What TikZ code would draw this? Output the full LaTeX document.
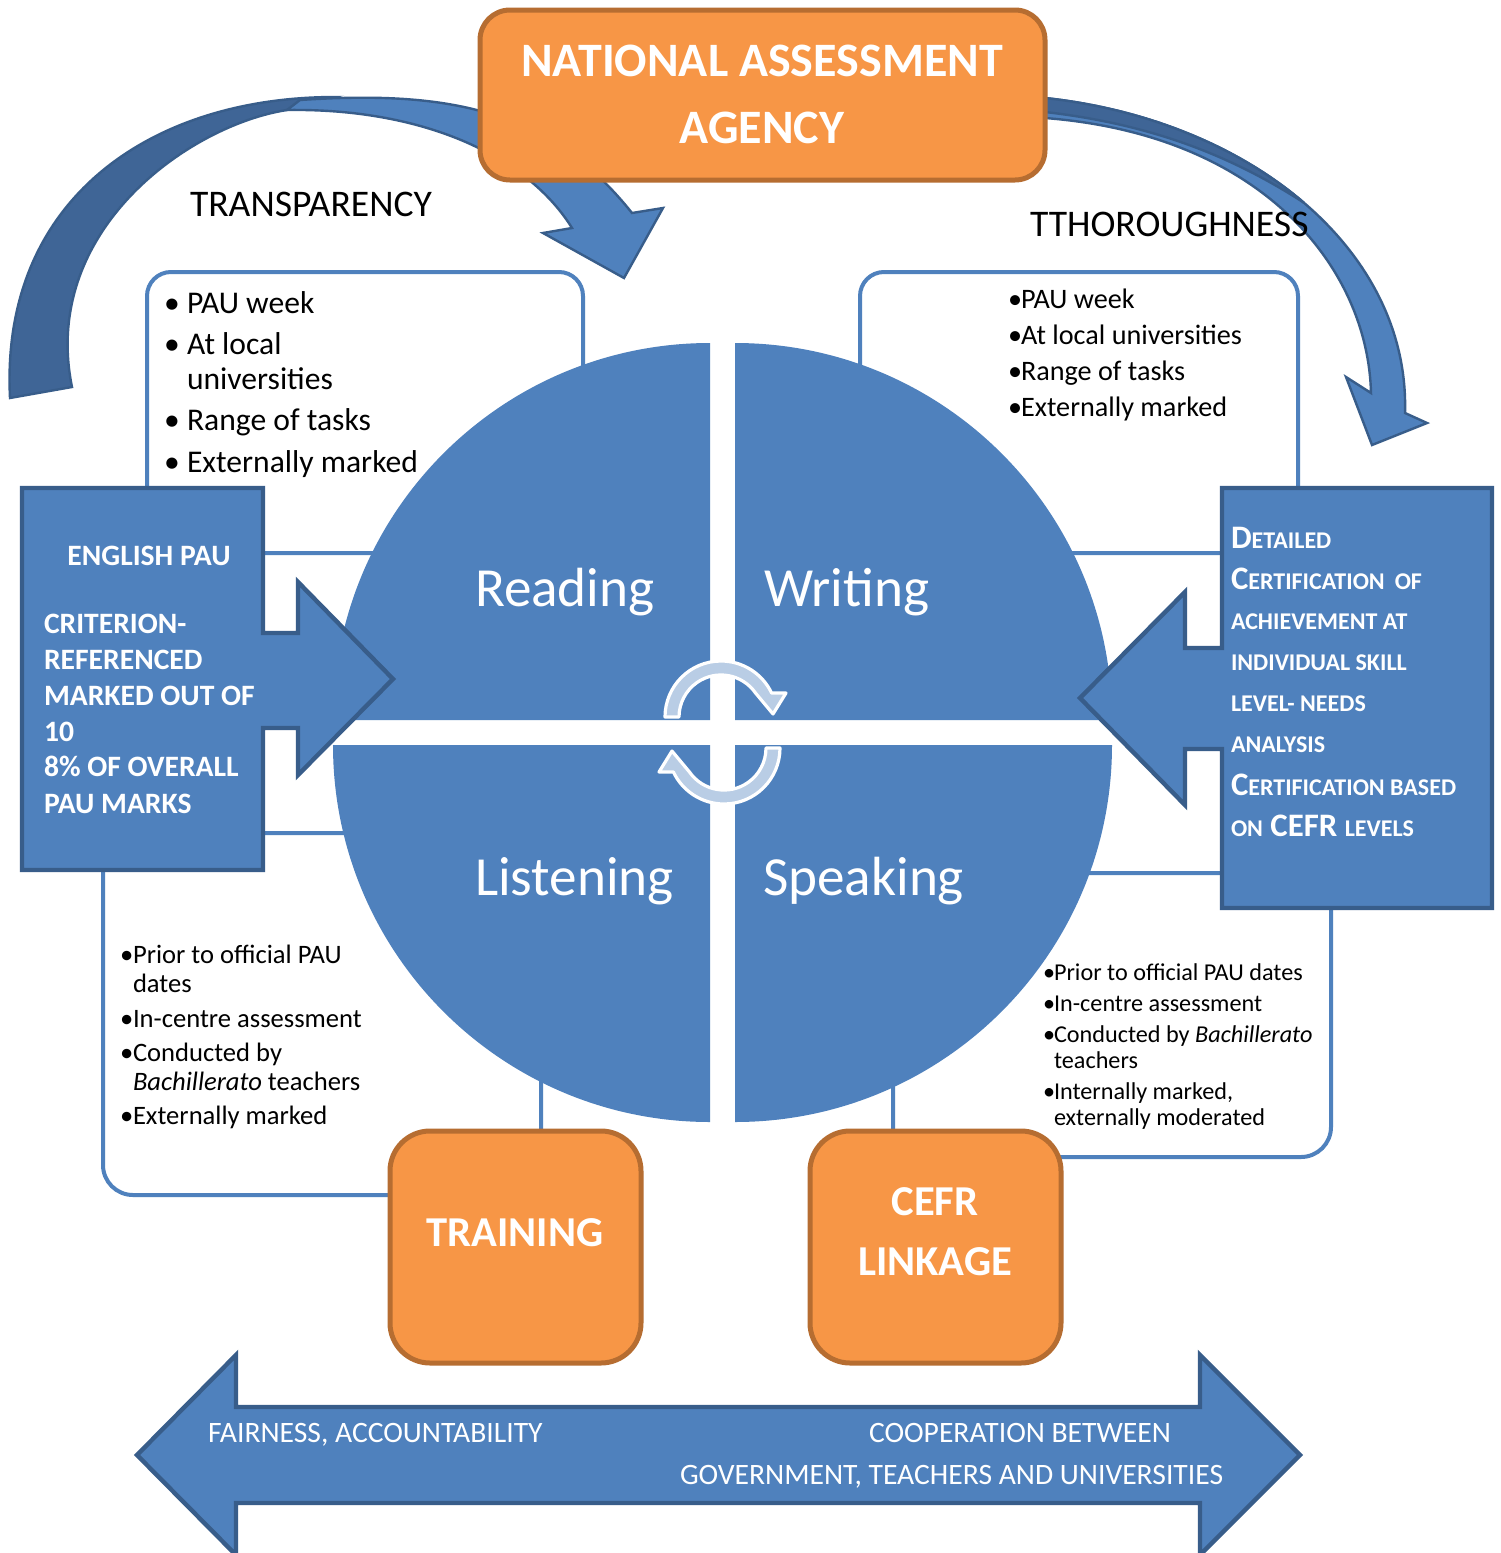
\documentclass[tikz,border=0pt]{standalone}
\usepackage{fontspec}
\setmainfont{Carlito}
\usetikzlibrary{calc}
\definecolor{blu}{HTML}{4F81BD}
\definecolor{bluborder}{HTML}{385D8A}
\definecolor{bludark}{HTML}{3F6596}
\definecolor{org}{HTML}{F79646}
\definecolor{orgborder}{HTML}{B66D31}
\definecolor{cyc}{HTML}{B9CDE5}
\newcommand{\setfs}[1]{\fontsize{#1}{#1}\selectfont}
\newcommand{\smc}[1]{{\setfs{12}#1}}
\tikzset{
 lbox/.style={draw=blu, line width=2pt, rounded corners=12pt},
 bshape/.style={fill=blu, draw=bluborder, line width=2.2pt, line join=miter},
 obox/.style={fill=org, draw=orgborder, line width=2.5pt},
 quad/.style={fill=blu},
 carrow/.style={fill=blu, draw=bluborder, line width=1.2pt},
 cdark/.style={fill=bludark, draw=bluborder, line width=1.2pt},
 cyca/.style={fill=cyc, draw=white, line width=1.6pt, line join=round},
 txt/.style={inner sep=0pt, outer sep=0pt},
 tl/.style={txt, anchor=base west, font=\setfs{15.8}},
 tr/.style={txt, anchor=base west, font=\setfs{14.1}},
 bl/.style={txt, anchor=base west, font=\setfs{13.3}},
 br/.style={txt, anchor=base west, font=\setfs{12.1}},
 wb/.style={txt, text=white, font=\bfseries\setfs{14.8}},
 rb/.style={txt, anchor=base west, text=white, font=\bfseries\setfs{16.4}},
 bigw/.style={txt, anchor=base, text=white, font=\bfseries\setfs{24}},
 orgw/.style={txt, anchor=base, text=white, font=\bfseries\setfs{21.3}},
 skill/.style={txt, anchor=base west, text=white, font=\setfs{27.6}},
 arrw/.style={txt, anchor=base west, text=white, font=\setfs{14.8}},
 head/.style={txt, anchor=base west, font=\setfs{18.8}},
}
\begin{document}
\begin{tikzpicture}[x=0.5pt,y=0.5pt]
\useasboundingbox (0,0) rectangle (1500,-1553);
\fill[white] (0,0) rectangle (1500,-1553);

% outline boxes behind everything
\draw[lbox] (147,-553) rectangle (583,-272);
\draw[lbox] (860,-553) rectangle (1298,-272);
\draw[lbox, rounded corners=15pt] (103,-833) rectangle (541,-1195);
\draw[lbox, rounded corners=15pt] (893,-873) rectangle (1331,-1157);

% left curved arrow (dark back part, then light front part)
\path[cdark] (10,-398) .. controls (0,-200) and (150,-97) .. (335,-97)
  -- (287,-110) .. controls (190,-125) and (40,-230) .. (72,-387) -- cycle;
\path[carrow] (300,-100) .. controls (450,-90) and (550,-110) .. (632,-213)
  -- (663,-208) -- (624,-278) -- (543,-233) -- (572,-228)
  .. controls (530,-160) and (430,-108) .. (287,-110) -- cycle;

% right curved arrow
\path[carrow] (1045,-98) .. controls (1250,-120) and (1410,-250) .. (1405,-413)
  -- (1427,-423) -- (1372,-445) -- (1346,-377) -- (1371,-393)
  .. controls (1368,-270) and (1265,-135) .. (1045,-118) -- cycle;
\path[cdark] (1045,-98) .. controls (1147.5,-109) and (1238.75,-147) .. (1303.75,-202.6)
  .. controls (1230,-155) and (1150,-124) .. (1045,-112) -- cycle;

% top orange box
\draw[obox, rounded corners=15pt] (480,-10) rectangle (1045,-180);

% circle quadrants
\fill[quad] (710,-720) -- (333,-720) arc[start angle=180, end angle=90, radius=188.5pt] -- cycle;
\fill[quad] (735,-720) -- (735,-343) arc[start angle=90, end angle=0, radius=188.5pt] -- cycle;
\fill[quad] (710,-745) -- (333,-745) arc[start angle=180, end angle=270, radius=188.5pt] -- cycle;
\fill[quad] (735,-745) -- (1112,-745) arc[start angle=0, end angle=-90, radius=188.5pt] -- cycle;

% cycle arrows
\path[cyca] (665,-717) arc[start angle=180, end angle=25.4, radius=28pt]
  -- (786,-693) -- (773,-714) -- (755.5,-693)
  arc[start angle=34.8, end angle=180, radius=21pt] -- cycle;
\path[cyca, rotate around={180:(722.5,-732.5)}] (665,-717) arc[start angle=180, end angle=25.4, radius=28pt]
  -- (786,-693) -- (773,-714) -- (755.5,-693)
  arc[start angle=34.8, end angle=180, radius=21pt] -- cycle;

% side boxes with arrows
\path[bshape] (22,-488) -- (263,-488) -- (263,-633) -- (298,-633) -- (298,-582)
  -- (393,-679) -- (298,-775) -- (298,-728) -- (263,-728) -- (263,-870) -- (22,-870) -- cycle;
\path[bshape] (1492,-488) -- (1222,-488) -- (1222,-648) -- (1185,-648) -- (1185,-592)
  -- (1080,-698) -- (1185,-805) -- (1185,-749) -- (1222,-749) -- (1222,-908) -- (1492,-908) -- cycle;

% bottom orange boxes
\draw[obox, rounded corners=20pt] (390,-1131) rectangle (641,-1363);
\draw[obox, rounded corners=20pt] (810,-1131) rectangle (1061,-1363);

% bottom double arrow
\path[bshape] (137,-1455) -- (236,-1355) -- (236,-1407) -- (1200,-1407) -- (1200,-1355)
  -- (1300,-1455) -- (1200,-1555) -- (1200,-1503) -- (236,-1503) -- (236,-1555) -- cycle;

% ---- texts ----
\node[bigw] (na1) at (762,-76) {NATIONAL ASSESSMENT};
\node[bigw] (na2) at (762,-143) {AGENCY};
\node[head] (trans) at (190,-216) {TRANSPARENCY};
\node[head] (thor) at (1030,-236) {TTHOROUGHNESS};

% top-left list
\node[tl] (tlb1) at (164,-313) {•};
\node[tl] (tl1) at (187,-313) {PAU week};
\node[tl] (tlb2) at (164,-354) {•};
\node[tl] (tl2) at (187,-354) {At local};
\node[tl] (tl3) at (187,-389) {universities};
\node[tl] (tlb4) at (164,-430) {•};
\node[tl] (tl4) at (187,-430) {Range of tasks};
\node[tl] (tlb5) at (164,-472) {•};
\node[tl] (tl5) at (187,-472) {Externally marked};

% top-right list
\node[tr] (trb1) at (1008,-308.5) {•};
\node[tr] (tr1) at (1021,-308.5) {PAU week};
\node[tr] (trb2) at (1008,-344.5) {•};
\node[tr] (tr2) at (1021,-344.5) {At local universities};
\node[tr] (trb3) at (1008,-380.5) {•};
\node[tr] (tr3) at (1021,-380.5) {Range of tasks};
\node[tr] (trb4) at (1008,-416.5) {•};
\node[tr] (tr4) at (1021,-416.5) {Externally marked};

% bottom-left list
\node[bl] (blb1) at (120,-963) {•};
\node[bl] (bl1) at (133,-963) {Prior to official PAU};
\node[bl] (bl2) at (133,-992) {dates};
\node[bl] (blb3) at (120,-1027) {•};
\node[bl] (bl3) at (133,-1027) {In-centre assessment};
\node[bl] (blb4) at (120,-1061) {•};
\node[bl] (bl4) at (133,-1061) {Conducted by};
\node[bl] (bl5) at (133,-1090) {\textit{Bachillerato} teachers};
\node[bl] (blb6) at (120,-1124) {•};
\node[bl] (bl6) at (133,-1124) {Externally marked};

% bottom-right list
\node[br] (brb1) at (1043,-980.5) {•};
\node[br] (br1) at (1054,-980.5) {Prior to official PAU dates};
\node[br] (brb2) at (1043,-1011.5) {•};
\node[br] (br2) at (1054,-1011.5) {In-centre assessment};
\node[br] (brb3) at (1043,-1042.5) {•};
\node[br] (br3) at (1054,-1042.5) {Conducted by \textit{Bachillerato}};
\node[br] (br4) at (1054,-1068.5) {teachers};
\node[br] (brb5) at (1043,-1099.5) {•};
\node[br] (br5) at (1054,-1099.5) {Internally marked,};
\node[br] (br6) at (1054,-1125.5) {externally moderated};

% circle labels
\node[skill] (read) at (475,-606) {Reading};
\node[skill] (writ) at (764,-606) {Writing};
\node[skill] (list) at (475,-895) {Listening};
\node[skill] (speak) at (763,-895) {Speaking};

% English PAU box text
\node[wb, anchor=base] (ep0) at (149,-565) {ENGLISH PAU};
\node[wb, anchor=base west] (ep1) at (44,-633) {CRITERION-};
\node[wb, anchor=base west] (ep2) at (44,-669) {REFERENCED};
\node[wb, anchor=base west] (ep3) at (44,-705) {MARKED OUT OF};
\node[wb, anchor=base west] (ep4) at (44,-741) {10};
\node[wb, anchor=base west] (ep5) at (44,-776) {8\% OF OVERALL};
\node[wb, anchor=base west] (ep6) at (44,-813) {PAU MARKS};

% right box text (small caps)
\node[rb] (rt1) at (1231,-548) {D\smc{ETAILED}};
\node[rb] (rt2) at (1231,-589) {C\smc{ERTIFICATION}\hspace{5pt}\smc{OF}};
\node[rb] (rt3) at (1231,-629) {\smc{ACHIEVEMENT AT}};
\node[rb] (rt4) at (1231,-670) {\smc{INDIVIDUAL SKILL}};
\node[rb] (rt5) at (1231,-711) {\smc{LEVEL- NEEDS}};
\node[rb] (rt6) at (1231,-752) {\smc{ANALYSIS}};
\node[rb] (rt7) at (1231,-795) {C\smc{ERTIFICATION BASED}};
\node[rb] (rt8) at (1231,-836) {\smc{ON} CEFR \smc{LEVELS}};

% orange box texts
\node[orgw] (trn) at (515,-1246) {TRAINING};
\node[orgw] (cefr1) at (935,-1215) {CEFR};
\node[orgw] (cefr2) at (935,-1275) {LINKAGE};

% bottom arrow texts
\node[arrw] (fa) at (208,-1442) {FAIRNESS, ACCOUNTABILITY};
\node[arrw] (co) at (869,-1442) {COOPERATION BETWEEN};
\node[arrw] (go) at (680,-1484) {GOVERNMENT, TEACHERS AND UNIVERSITIES};
\end{tikzpicture}
\end{document}
